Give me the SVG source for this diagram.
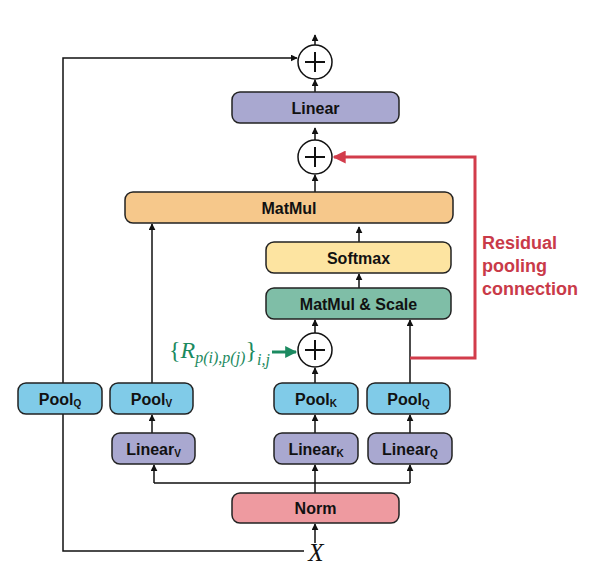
<svg xmlns="http://www.w3.org/2000/svg" width="598" height="566" viewBox="0 0 598 566">
<defs>
<marker id="ah" viewBox="0 0 10 10" refX="9" refY="5" markerWidth="7" markerHeight="7" orient="auto" markerUnits="userSpaceOnUse"><path d="M0,0 L10,5 L0,10 z" fill="#111"/></marker>
<marker id="ahr" viewBox="0 0 10 10" refX="9" refY="5" markerWidth="13" markerHeight="13" orient="auto" markerUnits="userSpaceOnUse"><path d="M0,0 L10,5 L0,10 z" fill="#d23c4b"/></marker>
<marker id="ahg" viewBox="0 0 10 10" refX="9" refY="5" markerWidth="12" markerHeight="12" orient="auto" markerUnits="userSpaceOnUse"><path d="M0,0 L10,5 L0,10 z" fill="#1b8a60"/></marker>
</defs>
<style>
.box{stroke:#222;stroke-width:1.5}
.lbl{font-family:"Liberation Sans",Arial,sans-serif;font-weight:bold;font-size:16px;fill:#111;text-anchor:middle}
.sub{font-size:10px}
.ln{fill:none;stroke:#111;stroke-width:1.5}
.circ{fill:#fff;stroke:#111;stroke-width:1.5}
.plus{stroke:#111;stroke-width:2}
.lin{fill:#a9a8d0}
.pool{fill:#80cbe8}
</style>
<g id="connectors">
<path class="ln" d="M315,45 L315,35" marker-end="url(#ah)"/>
<path class="ln" d="M63,383 L63,58 L297,58" marker-end="url(#ah)"/>
<path class="ln" d="M315,92 L315,80" marker-end="url(#ah)"/>
<path class="ln" d="M315,140 L315,128" marker-end="url(#ah)"/>
<path class="ln" d="M315,192 L315,175" marker-end="url(#ah)"/>
<path class="ln" d="M359,242 L359,227" marker-end="url(#ah)"/>
<path class="ln" d="M359,288 L359,274" marker-end="url(#ah)"/>
<path class="ln" d="M315,333 L315,320" marker-end="url(#ah)"/>
<path class="ln" d="M410,383 L410,320" marker-end="url(#ah)"/>
<path class="ln" d="M152,383 L152,224" marker-end="url(#ah)"/>
<path class="ln" d="M315,383 L315,368" marker-end="url(#ah)"/>
<path class="ln" d="M152,433 L152,415" marker-end="url(#ah)"/>
<path class="ln" d="M315,433 L315,415" marker-end="url(#ah)"/>
<path class="ln" d="M410,433 L410,415" marker-end="url(#ah)"/>
<path class="ln" d="M315,493 L315,483 M154,483 L410,483"/>
<path class="ln" d="M154,483 L154,465" marker-end="url(#ah)"/>
<path class="ln" d="M315,483 L315,465" marker-end="url(#ah)"/>
<path class="ln" d="M410,483 L410,465" marker-end="url(#ah)"/>
<path class="ln" d="M315,543 L315,524" marker-end="url(#ah)"/>
<path class="ln" d="M63,414 L63,551 L304,551"/>
<path d="M410,358 L475,358 L475,157 L334,157" fill="none" stroke="#d23c4b" stroke-width="3" marker-end="url(#ahr)"/>
<path d="M272,352 L296,352" fill="none" stroke="#1b8a60" stroke-width="3" marker-end="url(#ahg)"/>
</g>
<g id="add_top"><circle class="circ" cx="315" cy="62" r="17"/><path class="plus" d="M305,62 H325 M315,52 V72"/></g>
<g id="linear_out"><rect class="box lin" x="232" y="92" width="167" height="31" rx="8"/><text class="lbl" x="315.5" y="113.5">Linear</text></g>
<g id="add_mid"><circle class="circ" cx="315" cy="157" r="17"/><path class="plus" d="M305,157 H325 M315,147 V167"/></g>
<g id="matmul"><rect class="box" fill="#f6c88b" x="125" y="192" width="328" height="31" rx="8"/><text class="lbl" x="289" y="213.5">MatMul</text></g>
<g id="softmax"><rect class="box" fill="#fde4a1" x="266" y="242" width="185" height="31" rx="8"/><text class="lbl" x="358.5" y="263.5">Softmax</text></g>
<g id="matmul_scale"><rect class="box" fill="#7fbea7" x="266" y="288" width="185" height="31" rx="8"/><text class="lbl" x="358.5" y="309.5">MatMul &amp; Scale</text></g>
<g id="add_low"><circle class="circ" cx="315" cy="350" r="17"/><path class="plus" d="M305,350 H325 M315,340 V360"/></g>
<g id="rel_pos"><text font-family="'Liberation Serif','Times New Roman',serif" fill="#1b8a60" font-size="24"><tspan x="169" y="358">{</tspan><tspan font-style="italic">R</tspan><tspan font-style="italic" font-size="16" dy="5">p(i),p(j)</tspan><tspan dy="-5">}</tspan><tspan font-style="italic" font-size="16" dy="7">i,j</tspan></text></g>
<g id="residual_label"><text font-family="'Liberation Sans',Arial,sans-serif" font-weight="bold" font-size="18" fill="#c93a49"><tspan x="482" y="249">Residual</tspan><tspan x="482" y="272">pooling</tspan><tspan x="482" y="295">connection</tspan></text></g>
<g id="poolq_left"><rect class="box pool" x="18" y="383" width="84" height="31" rx="8"/><text class="lbl" x="60" y="404.5">Pool<tspan class="sub" dy="2">Q</tspan></text></g>
<g id="poolv"><rect class="box pool" x="110" y="383" width="83" height="31" rx="8"/><text class="lbl" x="151.5" y="404.5">Pool<tspan class="sub" dy="2">V</tspan></text></g>
<g id="poolk"><rect class="box pool" x="274" y="383" width="84" height="31" rx="8"/><text class="lbl" x="316" y="404.5">Pool<tspan class="sub" dy="2">K</tspan></text></g>
<g id="poolq"><rect class="box pool" x="367" y="383" width="83" height="31" rx="8"/><text class="lbl" x="408.5" y="404.5">Pool<tspan class="sub" dy="2">Q</tspan></text></g>
<g id="linearv"><rect class="box lin" x="112" y="433" width="83" height="31" rx="8"/><text class="lbl" x="153.5" y="454.5">Linear<tspan class="sub" dy="2">V</tspan></text></g>
<g id="lineark"><rect class="box lin" x="274" y="433" width="84" height="31" rx="8"/><text class="lbl" x="316" y="454.5">Linear<tspan class="sub" dy="2">K</tspan></text></g>
<g id="linearq"><rect class="box lin" x="368" y="433" width="84" height="31" rx="8"/><text class="lbl" x="410" y="454.5">Linear<tspan class="sub" dy="2">Q</tspan></text></g>
<g id="norm"><rect class="box" fill="#ee9aa0" x="232" y="493" width="167" height="30" rx="8"/><text class="lbl" x="315.5" y="514">Norm</text></g>
<g id="x_input"><text x="316" y="561" font-family="'Liberation Serif','Times New Roman',serif" font-style="italic" font-size="25" text-anchor="middle" fill="#111">X</text></g>
</svg>
